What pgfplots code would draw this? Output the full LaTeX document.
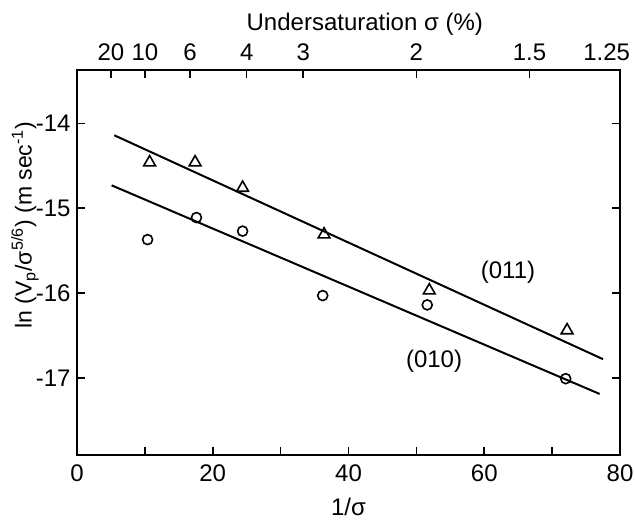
\documentclass[border=0pt]{standalone}
\usepackage{fontspec}
\setmainfont{Liberation Sans}
\usepackage{pgfplots}
\pgfplotsset{compat=1.18}

\pgfplotstableread{
x     y
10.7  -14.46
17.4  -14.46
24.4  -14.76
36.4  -15.31
51.9  -15.97
72.2  -16.44
}\triangles

\pgfplotstableread{
x     y
10.4  -15.37
17.6  -15.11
24.4  -15.27
36.2  -16.03
51.6  -16.14
72.0  -17.01
}\circles

\newcommand{\lbl}{\fontsize{12}{14}\selectfont}

\begin{document}
\begin{tikzpicture}
\pgfplotsset{
  every axis/.append style={
    scale only axis, width=271.5pt, height=192.5pt,
    xmin=0, xmax=80, ymin=-17.91, ymax=-13.37,
    tick align=inside, major tick length=4pt,
    axis line style={line width=0.9pt},
    tick style={line width=0.8pt, black},
    /pgf/number format/assume math mode=true,
    tick label style={font=\lbl},
    label style={font=\lbl},
  }
}
\path[use as bounding box] (-38.5pt,-34.5pt) rectangle (279pt,227.5pt);

% top scale: undersaturation in percent
\begin{axis}[
  at={(0,0)}, anchor=south west,
  axis x line*=top, hide y axis,
  xtick={5,10,16.667,25,33.333,50,66.667,80},
  xticklabels={20,10,6,4,3,2,1.5,\makebox[10pt][r]{1.25}},
  xticklabel style={anchor=center, yshift=9pt},
  xlabel={Undersaturation σ (\%)},
  xlabel style={at={(axis description cs:0.53,1)}, anchor=center, yshift=23pt},
]
\addplot[draw=none] coordinates {(0,-16)};
\end{axis}

\begin{axis}[
  at={(0,0)}, anchor=south west,
  xtick={0,10,...,80},
  xticklabels={0,,20,,40,,60,,80},
  xtick pos=bottom, ytick pos=both,
  ytick={-14,-15,-16,-17},
  yticklabel pos=left,
  xticklabel style={anchor=center, yshift=-9pt},
  yticklabel style={anchor=east, inner sep=0pt, xshift=-3pt},
  xlabel={1/σ},
  xlabel style={at={(axis description cs:0.5,0)}, anchor=center, yshift=-26pt},
  ylabel={ln (V\textsubscript{p}/σ\textsuperscript{5/6}) (m sec\textsuperscript{-1})},
  ylabel style={at={(axis description cs:-0.0958,0.597)}, anchor=center, font=\fontsize{11.5}{13}\selectfont},
  clip=false,
]
\addplot[black, line width=1pt] coordinates {(5.5,-14.14) (77.5,-16.78)};
\addplot[black, line width=1pt] coordinates {(5.1,-14.73) (77,-17.19)};
\addplot[only marks, mark=triangle, mark size=3.4pt, mark options={line width=0.8pt, fill=white}] table {\triangles};
\addplot[only marks, mark=o, mark size=2.5pt, mark options={line width=0.8pt, fill=white}] table {\circles};
\node[font=\lbl] at (axis cs:63.5,-15.76) {(011)};
\node[font=\lbl] at (axis cs:52.6,-16.80) {(010)};
\end{axis}
\end{tikzpicture}
\end{document}
